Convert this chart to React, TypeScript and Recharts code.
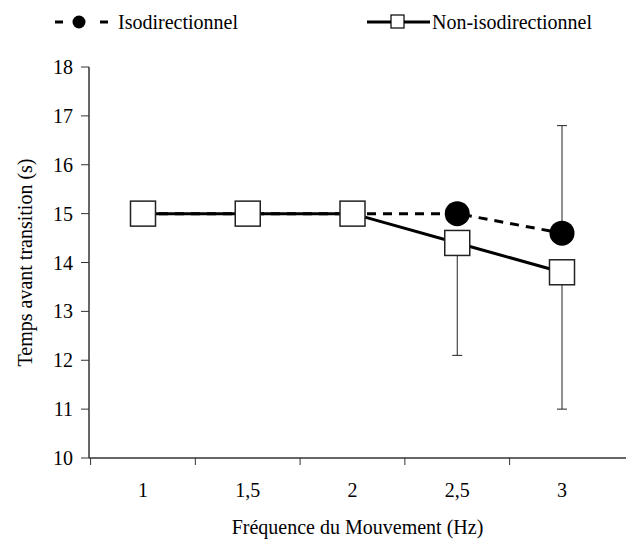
import React from 'react';
import { LineChart, Line, XAxis, YAxis, ErrorBar, Legend } from 'recharts';

const frequencies = ['1', '1,5', '2', '2,5', '3'];
const isoValues = [15, 15, 15, 15, 14.6];
const nonIsoValues = [15, 15, 15, 14.4, 13.8];
// [lower, upper]
const isoErrors = [null, null, null, null, [0, 2.2]];
const nonIsoErrors = [null, null, null, [2.3, 0], [2.8, 0]];
const yTicks = [10, 11, 12, 13, 14, 15, 16, 17, 18];

const data = frequencies.map((freq, i) => ({
  freq,
  iso: isoValues[i],
  nonIso: nonIsoValues[i],
  isoErr: isoErrors[i],
  nonIsoErr: nonIsoErrors[i],
}));

// above 20px the serif face gets swapped for a sans one here, so stay at 20
const FONT = 'Liberation Serif';
const FS = 20;
const AXIS = '#333';
const HALF_BAND = 52.4;

const SquareDot = (props: any) => {
  const { cx, cy, index } = props;
  if (cx == null || cy == null) return null;
  return (
    <rect key={`sq-${index}`} x={cx - 12.5} y={cy - 12.5} width={25} height={25}
      fill="#fff" stroke="#222" strokeWidth={1.5} />
  );
};

// label in the middle of the category, tick mark on the left boundary
const FreqTick = (props: any) => {
  const { x, y, payload } = props;
  const axisY = y - 25;
  return (
    <g>
      <line x1={x - HALF_BAND} x2={x - HALF_BAND} y1={axisY} y2={axisY + 7} stroke={AXIS} />
      <text x={x} y={y} dy="0.71em" textAnchor="middle" fill="#000" fontSize={FS} fontFamily={FONT}>
        {payload.value}
      </text>
    </g>
  );
};

const LegendContent = () => (
  <svg width={626} height={40} style={{ display: 'block' }}>
    <line x1={55} x2={63} y1={22} y2={22} stroke="#000" strokeWidth={3} />
    <circle cx={79} cy={22} r={6.5} fill="#000" />
    <line x1={100} x2={108} y1={22} y2={22} stroke="#000" strokeWidth={3} />
    <text x={118} y={22} dominantBaseline="central" fontSize={FS} fontFamily={FONT}>Isodirectionnel</text>
    <line x1={367} x2={430} y1={22} y2={22} stroke="#000" strokeWidth={3} />
    <rect x={391} y={15} width={13} height={13} fill="#fff" stroke="#000" strokeWidth={1.2} />
    <text x={432} y={22} dominantBaseline="central" fontSize={FS} fontFamily={FONT}>Non-isodirectionnel</text>
  </svg>
);

const App = () => {
  return (
    <div style={{ position: 'absolute', left: 0, top: 0, background: '#fff' }}>
      <LineChart
        width={626}
        height={542}
        data={data}
        margin={{ top: 27, right: 0, bottom: 4, left: 0 }}
      >
        <Legend verticalAlign="top" content={LegendContent} wrapperStyle={{ top: 0, left: 0 }} height={40} />
        <XAxis
          dataKey="freq"
          padding={{ left: 54, right: 64 }}
          axisLine={{ stroke: AXIS, strokeWidth: 1.5 }}
          tickLine={false}
          tickSize={0}
          tickMargin={25}
          tick={<FreqTick />}
          height={80}
          label={{ value: 'Fréquence du Mouvement (Hz)', position: 'insideBottom', offset: 4, fill: '#000', fontSize: FS, fontFamily: FONT }}
        />
        <YAxis
          type="number"
          domain={[10, 18]}
          ticks={yTicks}
          width={89}
          axisLine={{ stroke: AXIS, strokeWidth: 1.5 }}
          tickLine={{ stroke: AXIS }}
          tickSize={8}
          tickMargin={8}
          tick={{ fill: '#000', fontSize: FS, fontFamily: FONT }}
          label={{ value: 'Temps avant transition (s)', angle: -90, position: 'insideLeft', offset: 25, fill: '#000', fontSize: FS, fontFamily: FONT, style: { textAnchor: 'middle' } }}
        />
        <Line
          dataKey="iso"
          stroke="#000"
          strokeWidth={3}
          strokeDasharray="9 7"
          dot={{ r: 12.5, fill: '#000', stroke: '#000', strokeWidth: 0 }}
          isAnimationActive={false}
        >
          <ErrorBar dataKey="isoErr" direction="y" width={5} stroke="#222" strokeWidth={1} />
        </Line>
        <Line
          dataKey="nonIso"
          stroke="#000"
          strokeWidth={3}
          dot={<SquareDot />}
          isAnimationActive={false}
        >
          <ErrorBar dataKey="nonIsoErr" direction="y" width={5} stroke="#222" strokeWidth={1} />
        </Line>
      </LineChart>
    </div>
  );
};

export default App;
